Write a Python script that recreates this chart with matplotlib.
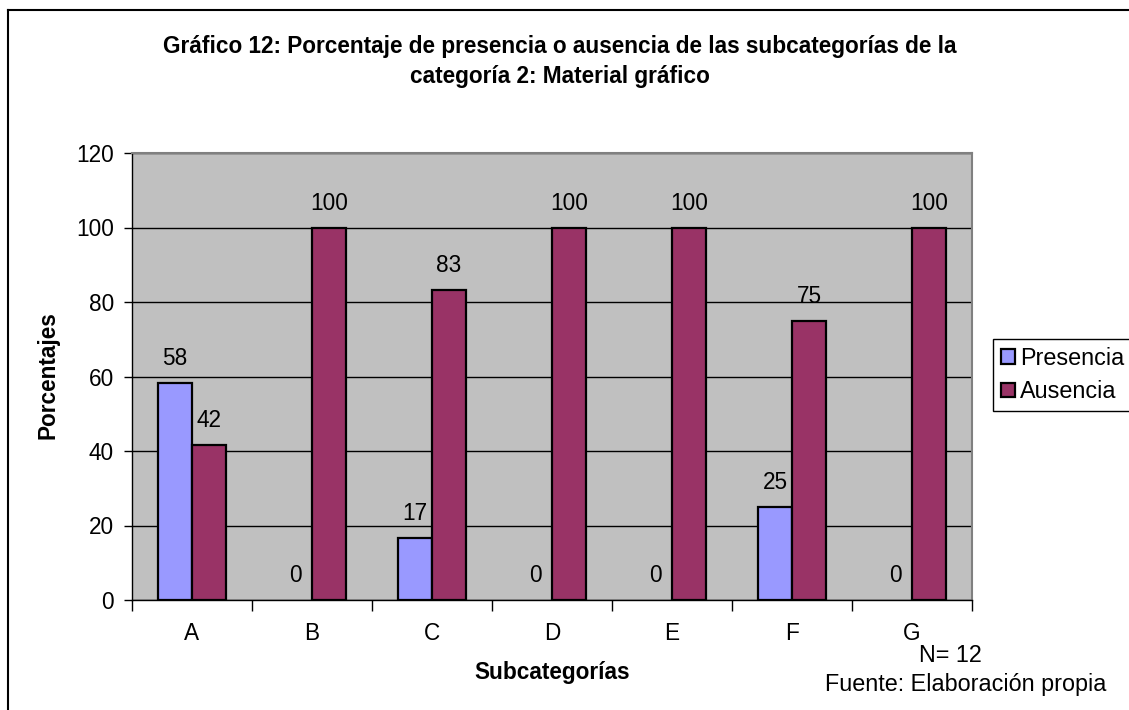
import numpy as np
import matplotlib
matplotlib.use('Agg')
import matplotlib.pyplot as plt
from matplotlib.lines import Line2D

plt.rcParams['font.family'] = ['Liberation Sans', 'DejaVu Sans']

categories = ['A', 'B', 'C', 'D', 'E', 'F', 'G']
presencia = [58.33, 0, 16.67, 0, 0, 25, 0]
ausencia = [41.67, 100, 83.33, 100, 100, 75, 100]
series_names = ['Presencia', 'Ausencia']
series_colors = ['#9999FF', '#993366']
yticks = [0, 20, 40, 60, 80, 100, 120]

FS = 16.3

fig = plt.figure(figsize=(11.29, 7.1), dpi=100)
ax = fig.add_axes([132 / 1129, 1 - 600 / 710, 840 / 1129, 447 / 710])
ax.set_facecolor('#C0C0C0')

x = np.arange(len(categories))
w = 0.283
for vals, name, col, off in zip([presencia, ausencia], series_names, series_colors, [-w / 2, w / 2]):
    bars = ax.bar(x + off, vals, w, color=col, edgecolor='black', linewidth=1.6,
                  label=name, zorder=3)
    for b, v in zip(bars, vals):
        if v == 0:
            b.set_visible(False)
        ax.annotate('%.0f' % v, (b.get_x() + b.get_width() / 2, v),
                    xytext=(0, 9), textcoords='offset points',
                    ha='center', va='bottom', fontsize=FS)

ax.set_xlim(-0.5, len(categories) - 0.5)
ax.set_ylim(0, 120)
ax.set_yticks(yticks)
ax.tick_params(axis='y', labelsize=FS, length=6, width=1, direction='out', pad=7)
ax.set_xticks(x)
ax.set_xticklabels(categories, fontsize=FS)
ax.tick_params(axis='x', length=0, pad=16)
ax.set_xticks(np.arange(len(categories) + 1) - 0.5, minor=True)
ax.tick_params(axis='x', which='minor', length=8, width=1, direction='out')
ax.yaxis.grid(True, color='black', linewidth=1, zorder=1)
ax.set_axisbelow(True)
for s in ['top', 'right']:
    ax.spines[s].set_color('#808080')
    ax.spines[s].set_linewidth(1.5)
for s in ['left', 'bottom']:
    ax.spines[s].set_color('black')
    ax.spines[s].set_linewidth(1)

fig.text(560 / 1129, 1 - 46 / 710,
         'Gráfico 12: Porcentaje de presencia o ausencia de las subcategorías de la',
         ha='center', va='center', fontsize=FS, fontweight='bold')
fig.text(560 / 1129, 1 - 77 / 710, 'categoría 2: Material gráfico',
         ha='center', va='center', fontsize=FS, fontweight='bold')
fig.text(48 / 1129, 1 - 375 / 710, 'Porcentajes', rotation=90,
         ha='center', va='center', fontsize=FS, fontweight='bold')
fig.text(552 / 1129, 1 - 673 / 710, 'Subcategorías',
         ha='center', va='center', fontsize=FS, fontweight='bold')
fig.text(950 / 1129, 1 - 655 / 710, 'N= 12', ha='center', va='center', fontsize=FS + 0.5)
fig.text(966 / 1129, 1 - 685 / 710, 'Fuente: Elaboración propia',
         ha='center', va='center', fontsize=FS + 0.5)

leg = fig.legend(loc='center left', bbox_to_anchor=(993 / 1129, 1 - 375 / 710),
                 fontsize=FS + 0.5, frameon=True, fancybox=False, framealpha=1,
                 edgecolor='black', handlelength=0.6, handleheight=0.6,
                 handletextpad=0.2, borderpad=0.35, labelspacing=0.45,
                 borderaxespad=0)
leg.get_frame().set_linewidth(1)

# outer chart frame
fig.add_artist(Line2D([8 / 1129, 8 / 1129], [0, 1 - 10 / 710], color='black', lw=1.5,
                      transform=fig.transFigure))
fig.add_artist(Line2D([8 / 1129, 1], [1 - 10 / 710, 1 - 10 / 710], color='black', lw=1.5,
                      transform=fig.transFigure))

fig.savefig('out.png', dpi=100)
